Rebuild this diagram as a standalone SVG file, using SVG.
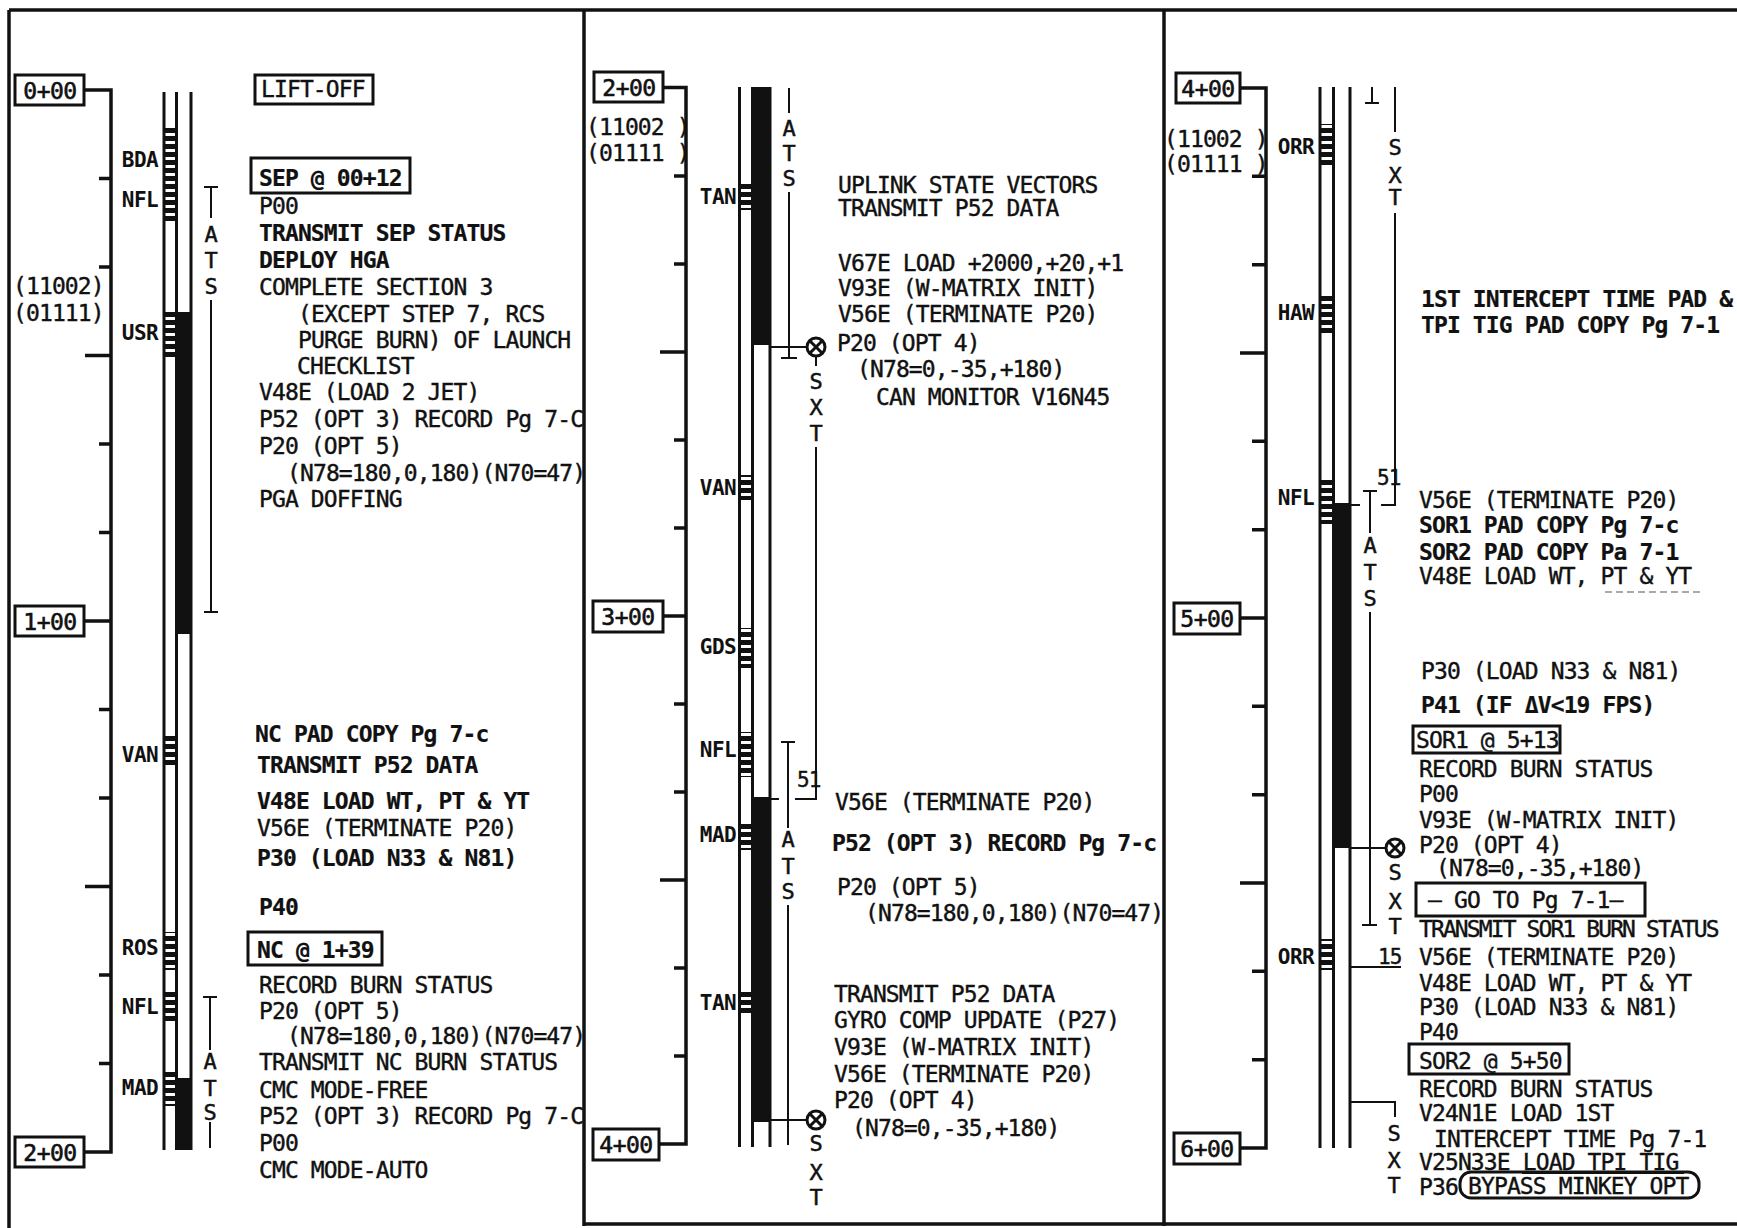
<svg xmlns="http://www.w3.org/2000/svg" width="1737" height="1228" viewBox="0 0 1737 1228">
<style>
.t{font-family:'DejaVu Sans Mono','Liberation Mono',monospace;font-size:23px;letter-spacing:-0.88px;fill:#111;stroke:#111;stroke-width:0.4}
.b{font-weight:bold;stroke-width:0.2}
.st{font-family:'DejaVu Sans Mono','Liberation Mono',monospace;font-size:21px;letter-spacing:-0.6px;fill:#111;text-anchor:end;font-weight:bold}
.v{font-family:'DejaVu Sans Mono','Liberation Mono',monospace;font-size:22px;fill:#111;text-anchor:middle;stroke:#111;stroke-width:0.5}
.tb{font-family:'DejaVu Sans Mono','Liberation Mono',monospace;font-size:23px;letter-spacing:-0.5px;fill:#111;text-anchor:middle;stroke:#111;stroke-width:0.6}
.bx{fill:none;stroke:#111;stroke-width:3}
.ln{fill:none;stroke:#111;stroke-width:3}
.ax{fill:none;stroke:#111;stroke-width:3.5}
.th{fill:none;stroke:#111;stroke-width:2}
.rail{stroke:#111;stroke-width:3}
.dk{fill:#111}
.lad{fill:url(#rung)}
</style>
<defs>
<pattern id="rung" patternUnits="userSpaceOnUse" width="2000" height="8">
<rect x="0" y="0" width="2000" height="5" fill="#111"/>
</pattern>
<g id="sxt">
<circle cx="0" cy="0" r="9" fill="#fff" stroke="#111" stroke-width="3"/>
<path d="M-6,-6 L6,6 M6,-6 L-6,6" stroke="#111" stroke-width="3"/>
</g>
</defs>
<rect width="1737" height="1228" fill="#fff"/>

<g id="frame" class="ax">
<path d="M9,10 H1737"/>
<path d="M9,10 V1228"/>
<path d="M584,10 V1226"/>
<path d="M1164,10 V1226"/>
<path d="M584,1224 H1737"/>
</g>

<!-- ========== COLUMN 1 ========== -->
<g id="col1-axis">
<path class="ax" d="M84,90 H111 V1152 H84 M85,621 H111 M99,178.5 H111 M99,267 H111 M85,355.5 H111 M99,444 H111 M99,532.5 H111 M99,709.5 H111 M99,798 H111 M85,886.5 H111 M99,975 H111 M99,1063.5 H111"/>
<g id="t0000"><rect class="bx" x="15" y="75" width="69" height="30"/><text class="tb" x="50" y="99">0+00</text></g>
<g id="t0100"><rect class="bx" x="15" y="606" width="69" height="30"/><text class="tb" x="50" y="630">1+00</text></g>
<g id="t0200"><rect class="bx" x="15" y="1137" width="69" height="30"/><text class="tb" x="50" y="1161">2+00</text></g>
<text class="t" x="13" y="294">(11002)</text>
<text class="t" x="13" y="321">(01111)</text>
</g>
<g id="col1-track">
<rect class="dk" x="176" y="312" width="16" height="322"/>
<rect class="dk" x="176" y="1078" width="16" height="72"/>
<rect class="lad" x="163" y="128" width="14" height="94"/>
<rect class="lad" x="163" y="310" width="14" height="47"/>
<rect class="lad" x="163" y="735" width="14" height="33"/>
<rect class="lad" x="163" y="932" width="14" height="38"/>
<rect class="lad" x="163" y="990" width="14" height="34"/>
<rect class="lad" x="163" y="1072" width="14" height="34"/>
<path class="rail" d="M164,92 V1150 M176.5,92 V1150 M191,92 V1150"/>
<text class="st" x="158" y="167">BDA</text>
<text class="st" x="158" y="207">NFL</text>
<text class="st" x="158" y="340">USR</text>
<text class="st" x="158" y="762">VAN</text>
<text class="st" x="158" y="955">ROS</text>
<text class="st" x="158" y="1014">NFL</text>
<text class="st" x="158" y="1095">MAD</text>
</g>
<g id="col1-ats">
<path class="th" d="M204,187 H218 M211,187 V218 M211,300 V612 M204,612 H218"/>
<text class="v" x="211" y="242">A</text><text class="v" x="211" y="268">T</text><text class="v" x="211" y="294">S</text>
<path class="th" d="M203,997 H217 M210,997 V1050 M210,1122 V1148"/>
<text class="v" x="210" y="1069">A</text><text class="v" x="210" y="1096">T</text><text class="v" x="210" y="1120">S</text>
</g>
<g id="col1-text">
<g id="liftoff"><rect class="bx" x="255" y="75" width="118" height="29"/><text class="t" x="261" y="97">LIFT-OFF</text></g>
<g id="sep"><rect class="bx" x="251" y="158" width="159" height="35"/><text class="t b" x="259" y="186">SEP @ 00+12</text></g>
<text class="t" x="259" y="214">P00</text>
<text class="t b" x="259" y="241">TRANSMIT SEP STATUS</text>
<text class="t b" x="259" y="268">DEPLOY HGA</text>
<text class="t" x="259" y="295">COMPLETE SECTION 3</text>
<text class="t" x="298" y="322">(EXCEPT STEP 7, RCS</text>
<text class="t" x="298" y="348">PURGE BURN) OF LAUNCH</text>
<text class="t" x="297" y="374">CHECKLIST</text>
<text class="t" x="259" y="400">V48E (LOAD 2 JET)</text>
<text class="t" x="259" y="427">P52 (OPT 3) RECORD Pg 7-C</text>
<text class="t" x="259" y="454">P20 (OPT 5)</text>
<text class="t" x="287" y="481">(N78=180,0,180)(N70=47)</text>
<text class="t" x="259" y="507">PGA DOFFING</text>
<text class="t b" x="255" y="742">NC PAD COPY Pg 7-c</text>
<text class="t b" x="257" y="773">TRANSMIT P52 DATA</text>
<text class="t b" x="257" y="809">V48E LOAD WT, PT &amp; YT</text>
<text class="t" x="257" y="836">V56E (TERMINATE P20)</text>
<text class="t b" x="257" y="866">P30 (LOAD N33 &amp; N81)</text>
<text class="t b" x="259" y="915">P40</text>
<g id="nc"><rect class="bx" x="248" y="932" width="134" height="33"/><text class="t b" x="257" y="958">NC @ 1+39</text></g>
<text class="t" x="259" y="993">RECORD BURN STATUS</text>
<text class="t" x="259" y="1019">P20 (OPT 5)</text>
<text class="t" x="287" y="1044">(N78=180,0,180)(N70=47)</text>
<text class="t" x="259" y="1070">TRANSMIT NC BURN STATUS</text>
<text class="t" x="259" y="1098">CMC MODE-FREE</text>
<text class="t" x="259" y="1124">P52 (OPT 3) RECORD Pg 7-C</text>
<text class="t" x="259" y="1151">P00</text>
<text class="t" x="259" y="1178">CMC MODE-AUTO</text>
</g>

<!-- ========== COLUMN 2 ========== -->
<g id="col2-axis">
<path class="ax" d="M663,87.5 H686 V1144 H659 M663,616 H686 M674,176 H686 M674,264 H686 M660,352 H686 M674,440 H686 M674,528 H686 M674,704 H686 M674,792 H686 M660,880 H686 M674,968 H686 M674,1056 H686"/>
<g id="t0200b"><rect class="bx" x="594" y="72" width="69" height="30"/><text class="tb" x="629" y="96">2+00</text></g>
<g id="t0300"><rect class="bx" x="593" y="601" width="70" height="31"/><text class="tb" x="628" y="625">3+00</text></g>
<g id="t0400"><rect class="bx" x="593" y="1129" width="66" height="31"/><text class="tb" x="626" y="1153">4+00</text></g>
<text class="t" x="586" y="135">(11002 )</text>
<text class="t" x="586" y="161">(01111 )</text>
</g>
<g id="col2-track">
<rect class="dk" x="752" y="87" width="19" height="258"/>
<rect class="dk" x="752" y="797" width="19" height="325"/>
<rect class="lad" x="739" y="181" width="14" height="29"/>
<rect class="lad" x="739" y="475" width="14" height="25"/>
<rect class="lad" x="739" y="628" width="14" height="40"/>
<rect class="lad" x="739" y="732" width="14" height="45"/>
<rect class="lad" x="739" y="822" width="14" height="28"/>
<rect class="lad" x="739" y="989" width="14" height="24"/>
<path class="rail" d="M739.5,87 V1147 M752.5,87 V1147 M770,87 V1147"/>
<text class="st" x="736" y="204">TAN</text>
<text class="st" x="736" y="495">VAN</text>
<text class="st" x="736" y="654">GDS</text>
<text class="st" x="736" y="757">NFL</text>
<text class="st" x="736" y="842">MAD</text>
<text class="st" x="736" y="1010">TAN</text>
</g>
<g id="col2-ats-sxt">
<path class="th" d="M789,88 V113 M789,192 V358 M781,358 H797"/>
<text class="v" x="789" y="136">A</text><text class="v" x="789" y="161">T</text><text class="v" x="789" y="186">S</text>
<path class="th" d="M770,347 H807 M816,357 V366 M816,447 V799 H795 M770,799 H779"/>
<use href="#sxt" x="816" y="347"/>
<text class="v" x="816" y="389">S</text><text class="v" x="816" y="415">X</text><text class="v" x="816" y="441">T</text>
<text class="t" x="797" y="787" style="font-size:21px">51</text>
<path class="th" d="M781,742 H795 M788,742 V828 M788,905 V1145"/>
<text class="v" x="788" y="847">A</text><text class="v" x="788" y="874">T</text><text class="v" x="788" y="899">S</text>
<path class="th" d="M770,1120 H807"/>
<use href="#sxt" x="816" y="1120"/>
<text class="v" x="816" y="1151">S</text><text class="v" x="816" y="1180">X</text><text class="v" x="816" y="1205">T</text>
</g>
<g id="col2-text">
<text class="t" x="838" y="193">UPLINK STATE VECTORS</text>
<text class="t" x="838" y="216">TRANSMIT P52 DATA</text>
<text class="t" x="838" y="271">V67E LOAD +2000,+20,+1</text>
<text class="t" x="838" y="296">V93E (W-MATRIX INIT)</text>
<text class="t" x="838" y="322">V56E (TERMINATE P20)</text>
<text class="t" x="837" y="351">P20 (OPT 4)</text>
<text class="t" x="857" y="377">(N78=0,-35,+180)</text>
<text class="t" x="876" y="405">CAN MONITOR V16N45</text>
<text class="t" x="835" y="810">V56E (TERMINATE P20)</text>
<text class="t b" x="832" y="851">P52 (OPT 3) RECORD Pg 7-c</text>
<text class="t" x="837" y="895">P20 (OPT 5)</text>
<text class="t" x="865" y="921">(N78=180,0,180)(N70=47)</text>
<text class="t" x="834" y="1002">TRANSMIT P52 DATA</text>
<text class="t" x="834" y="1028">GYRO COMP UPDATE (P27)</text>
<text class="t" x="834" y="1055">V93E (W-MATRIX INIT)</text>
<text class="t" x="834" y="1082">V56E (TERMINATE P20)</text>
<text class="t" x="834" y="1108">P20 (OPT 4)</text>
<text class="t" x="852" y="1136">(N78=0,-35,+180)</text>
</g>

<!-- ========== COLUMN 3 ========== -->
<g id="col3-axis">
<path class="ax" d="M1240,88 H1266 V1148 H1240 M1240,618 H1266 M1252,176.3 H1266 M1252,264.7 H1266 M1240,353 H1266 M1252,441.3 H1266 M1252,529.7 H1266 M1252,706.3 H1266 M1252,794.7 H1266 M1240,883 H1266 M1252,971.3 H1266 M1252,1059.7 H1266"/>
<g id="t0400b"><rect class="bx" x="1176" y="73" width="64" height="30"/><text class="tb" x="1208" y="97">4+00</text></g>
<g id="t0500"><rect class="bx" x="1174" y="603" width="66" height="31"/><text class="tb" x="1207" y="627">5+00</text></g>
<g id="t0600"><rect class="bx" x="1174" y="1133" width="66" height="31"/><text class="tb" x="1207" y="1157">6+00</text></g>
<text class="t" x="1164" y="147">(11002 )</text>
<text class="t" x="1164" y="172">(01111 )</text>
</g>
<g id="col3-track">
<rect class="dk" x="1333" y="503" width="18" height="345"/>
<rect class="lad" x="1319" y="124" width="15" height="43"/>
<rect class="lad" x="1319" y="295" width="15" height="38"/>
<rect class="lad" x="1319" y="477" width="15" height="47"/>
<rect class="lad" x="1319" y="939" width="15" height="31"/>
<path class="rail" d="M1320,87 V1148 M1333.5,87 V1148 M1350,87 V1148"/>
<text class="st" x="1314" y="154">ORR</text>
<text class="st" x="1314" y="320">HAW</text>
<text class="st" x="1314" y="505">NFL</text>
<text class="st" x="1314" y="964">ORR</text>
</g>
<g id="col3-ats-sxt">
<path class="th" d="M1372,87 V103 M1365,103 H1379"/>
<path class="th" d="M1395,87 V132 M1395,213 V505 H1381 M1351,505 H1360"/>
<text class="v" x="1395" y="155">S</text><text class="v" x="1395" y="183">X</text><text class="v" x="1395" y="205">T</text>
<text class="t" x="1377" y="485" style="font-size:21px">51</text>
<path class="th" d="M1363,491 H1377 M1370,491 V533 M1370,612 V925 M1362,925 H1377"/>
<text class="v" x="1370" y="553">A</text><text class="v" x="1370" y="580">T</text><text class="v" x="1370" y="606">S</text>
<path class="th" d="M1351,848 H1386"/>
<use href="#sxt" x="1395" y="848"/>
<text class="v" x="1395" y="880">S</text><text class="v" x="1395" y="909">X</text><text class="v" x="1395" y="934">T</text>
<path class="th" d="M1351,967 H1401"/>
<text class="t" x="1378" y="964" style="font-size:21px">15</text>
<path class="th" d="M1351,1102 H1395 V1117"/>
<text class="v" x="1394" y="1141">S</text><text class="v" x="1394" y="1168">X</text><text class="v" x="1394" y="1193">T</text>
</g>
<g id="col3-text">
<text class="t b" x="1421" y="307">1ST INTERCEPT TIME PAD &amp;</text>
<text class="t b" x="1421" y="333">TPI TIG PAD COPY Pg 7-1</text>
<text class="t" x="1419" y="508">V56E (TERMINATE P20)</text>
<text class="t b" x="1419" y="533">SOR1 PAD COPY Pg 7-c</text>
<text class="t b" x="1419" y="560">SOR2 PAD COPY Pa 7-1</text>
<text class="t" x="1419" y="584">V48E LOAD WT, PT &amp; YT</text>
<path d="M1605,592 H1701" stroke="#555" stroke-width="1.2" stroke-dasharray="7 4"/>
<text class="t" x="1421" y="679">P30 (LOAD N33 &amp; N81)</text>
<text class="t b" x="1421" y="713">P41 (IF ΔV&lt;19 FPS)</text>
<g id="sor1"><rect class="bx" x="1413" y="726" width="147" height="27"/><text class="t" x="1416" y="748">SOR1 @ 5+13</text></g>
<text class="t" x="1419" y="777">RECORD BURN STATUS</text>
<text class="t" x="1419" y="802">P00</text>
<text class="t" x="1419" y="828">V93E (W-MATRIX INIT)</text>
<text class="t" x="1419" y="853">P20 (OPT 4)</text>
<text class="t" x="1436" y="876">(N78=0,-35,+180)</text>
<g id="goto"><rect class="bx" x="1416" y="883" width="229" height="33"/><text class="t" x="1428" y="908">— GO TO Pg 7-1—</text></g>
<text class="t" x="1419" y="937" style="letter-spacing:-1.9px">TRANSMIT SOR1 BURN STATUS</text>
<text class="t" x="1419" y="965">V56E (TERMINATE P20)</text>
<text class="t" x="1419" y="991">V48E LOAD WT, PT &amp; YT</text>
<text class="t" x="1419" y="1015">P30 (LOAD N33 &amp; N81)</text>
<text class="t" x="1419" y="1040">P40</text>
<g id="sor2"><rect class="bx" x="1409" y="1044" width="160" height="30"/><text class="t" x="1419" y="1069">SOR2 @ 5+50</text></g>
<text class="t" x="1419" y="1097">RECORD BURN STATUS</text>
<text class="t" x="1419" y="1121">V24N1E LOAD 1ST</text>
<text class="t" x="1434" y="1147">INTERCEPT TIME Pg 7-1</text>
<text class="t" x="1419" y="1170">V25N33E LOAD TPI TIG</text>
<path class="th" d="M1522,1173 H1684"/>
<text class="t" x="1419" y="1195">P36</text>
<g id="bypass"><rect class="bx" x="1460" y="1172" width="239" height="26" rx="11"/><text class="t" x="1468" y="1194">BYPASS MINKEY OPT</text></g>
</g>
</svg>
